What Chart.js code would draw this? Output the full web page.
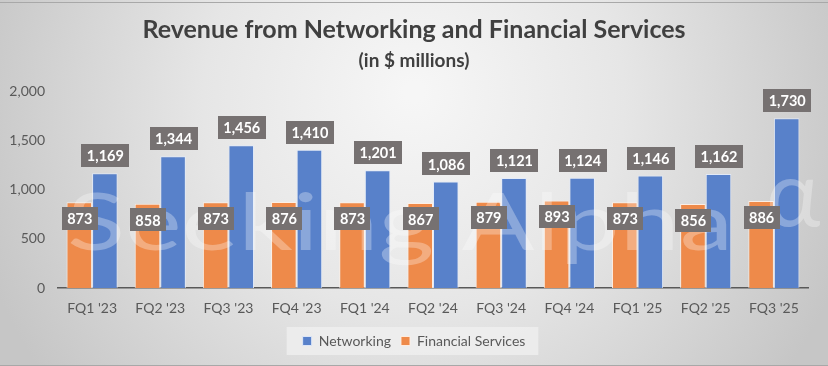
<!DOCTYPE html>
<html>
<head>
<meta charset="utf-8">
<script src="https://cdn.jsdelivr.net/npm/chart.js@4.4.1/dist/chart.umd.min.js"></script>
<style>
  html, body { margin: 0; padding: 0; background: #ffffff; }
  #wrap { width: 828px; height: 366px; position: relative; }
</style>
</head>
<body>
<div id="wrap"><canvas id="c" width="828" height="366"></canvas></div>
<script>
const categories = ["FQ1 '23", "FQ2 '23", "FQ3 '23", "FQ4 '23", "FQ1 '24", "FQ2 '24", "FQ3 '24", "FQ4 '24", "FQ1 '25", "FQ2 '25", "FQ3 '25"];
const networking = [1169, 1344, 1456, 1410, 1201, 1086, 1121, 1124, 1146, 1162, 1730];
const financialServices = [873, 858, 873, 876, 873, 867, 879, 893, 873, 856, 886];
const yTicks = [0, 500, 1000, 1500, 2000];
const titleText = "Revenue from Networking and Financial Services";
const subtitleText = "(in $ millions)";
const watermarkText = "Seeking Alpha";

const FONT = "Lato, 'Open Sans', sans-serif";

const backgroundPlugin = {
  id: 'bg',
  beforeDraw(chart) {
    const ctx = chart.ctx, w = chart.width, h = chart.height;
    ctx.save();
    const g = ctx.createRadialGradient(w * 0.5, h * 0.25, 10, w * 0.5, h * 0.3, w * 0.55);
    g.addColorStop(0, '#f6f6f6');
    g.addColorStop(0.45, '#e6e6e6');
    g.addColorStop(1, '#c6c6c6');
    ctx.fillStyle = g;
    ctx.fillRect(0, 0, w, h);
    ctx.strokeStyle = '#a8a8a8';
    ctx.lineWidth = 1;
    ctx.beginPath();
    ctx.moveTo(0, 2.5); ctx.lineTo(w, 2.5);
    ctx.moveTo(0, h - 0.5); ctx.lineTo(w, h - 0.5);
    ctx.stroke();
    // legend backdrop
    const lg = chart.legend;
    if (lg && lg.legendHitBoxes && lg.legendHitBoxes.length) {
      const boxes = lg.legendHitBoxes;
      const last = boxes[boxes.length - 1];
      const x0 = boxes[0].left - 16, x1 = last.left + last.width + 13;
      const yc = boxes[0].top + boxes[0].height / 2;
      ctx.fillStyle = 'rgba(240,240,240,0.75)';
      ctx.fillRect(x0, yc - 14, x1 - x0, 28);
    }
    ctx.restore();
  }
};

const watermarkPlugin = {
  id: 'watermark',
  afterDatasetsDraw(chart) {
    const ctx = chart.ctx;
    const x = chart.scales.x, y = chart.scales.y;
    ctx.save();
    ctx.font = "400 80px " + FONT;
    ctx.fillStyle = 'rgba(255,255,255,0.3)';
    ctx.textBaseline = 'alphabetic';
    const m = ctx.measureText(watermarkText).width;
    const left = x.left + 9, targetW = 666;
    const base = y.getPixelForValue(390);
    ctx.translate(left, base);
    ctx.scale(targetW / m, 1);
    ctx.fillText(watermarkText, 0, 0);
    ctx.restore();
    ctx.save();
    ctx.font = "400 92px " + FONT;
    ctx.fillStyle = 'rgba(255,255,255,0.3)';
    ctx.fillText('\u03b1', 766, y.getPixelForValue(930));
    ctx.restore();
  }
};

const labelPlugin = {
  id: 'valueLabels',
  afterDatasetsDraw(chart) {
    const ctx = chart.ctx;
    ctx.save();
    ctx.font = "bold 14.5px " + FONT;
    ctx.textAlign = 'center';
    ctx.textBaseline = 'middle';
    chart.data.datasets.forEach((ds, di) => {
      const meta = chart.getDatasetMeta(di);
      meta.data.forEach((el, i) => {
        const v = ds.data[i];
        const txt = v.toLocaleString('en-US');
        const tw = ctx.measureText(txt).width;
        const bw = tw + 11, bh = 23;
        const cy = ds.labelInside ? el.y + 16 : el.y - 17.5;
        const cx = el.x + 0.5;
        ctx.fillStyle = '#767171';
        ctx.fillRect(Math.round(cx - bw / 2), Math.round(cy - bh / 2), Math.round(bw), bh);
        ctx.fillStyle = '#ffffff';
        ctx.fillText(txt, cx, cy + 1);
      });
    });
    ctx.restore();
  }
};

new Chart(document.getElementById('c'), {
  type: 'bar',
  data: {
    labels: categories,
    datasets: [
      {
        label: 'Financial Services',
        data: financialServices,
        backgroundColor: '#EE8A4A',
        borderColor: 'rgba(255,240,228,0.9)',
        borderWidth: 1,
        labelInside: true
      },
      {
        label: 'Networking',
        data: networking,
        backgroundColor: '#5881CA',
        borderColor: 'rgba(225,234,250,0.9)',
        borderWidth: 1,
        labelInside: false
      }
    ]
  },
  options: {
    responsive: false,
    animation: false,
    devicePixelRatio: 1,
    layout: { padding: { left: 6, right: 6, top: 0, bottom: 8 } },
    datasets: { bar: { categoryPercentage: 0.75, barPercentage: 1.0 } },
    scales: {
      x: {
        afterFit(scale) { scale.height = 36; },
        grid: { display: false, drawTicks: false },
        border: { display: true, color: '#595959', width: 1.5 },
        ticks: { color: '#595959', font: { family: FONT, size: 14 }, padding: 12, maxRotation: 0 },
      },
      y: {
        min: 0, max: 2000,
        afterBuildTicks(scale) { scale.ticks = yTicks.map(v => ({ value: v })); },
        afterFit(scale) { scale.width = 52; },
        grid: { display: false, drawTicks: false },
        border: { display: false },
        ticks: {
          color: '#595959', font: { family: FONT, size: 14 }, padding: 13,
          callback: v => v.toLocaleString('en-US')
        }
      },
      yRightSpace: {
        position: 'right',
        display: true,
        afterFit(scale) { scale.width = 14; },
        grid: { display: false, drawTicks: false },
        border: { display: false },
        ticks: { display: false }
      }
    },
    plugins: {
      title: {
        display: true, text: titleText, color: '#404040',
        font: { family: FONT, size: 25, weight: 'bold' },
        padding: { top: 15, bottom: 4 }
      },
      subtitle: {
        display: true, text: subtitleText, color: '#404040',
        font: { family: FONT, size: 19, weight: 'bold' },
        padding: { top: 0, bottom: 20 }
      },
      legend: {
        position: 'bottom',
        labels: {
          color: '#595959', font: { family: FONT, size: 14 },
          boxWidth: 9, boxHeight: 9, padding: 10,
          sort: (a, b) => b.datasetIndex - a.datasetIndex
        }
      },
      tooltip: { enabled: false }
    }
  },
  plugins: [backgroundPlugin, watermarkPlugin, labelPlugin]
});
</script>
</body>
</html>
